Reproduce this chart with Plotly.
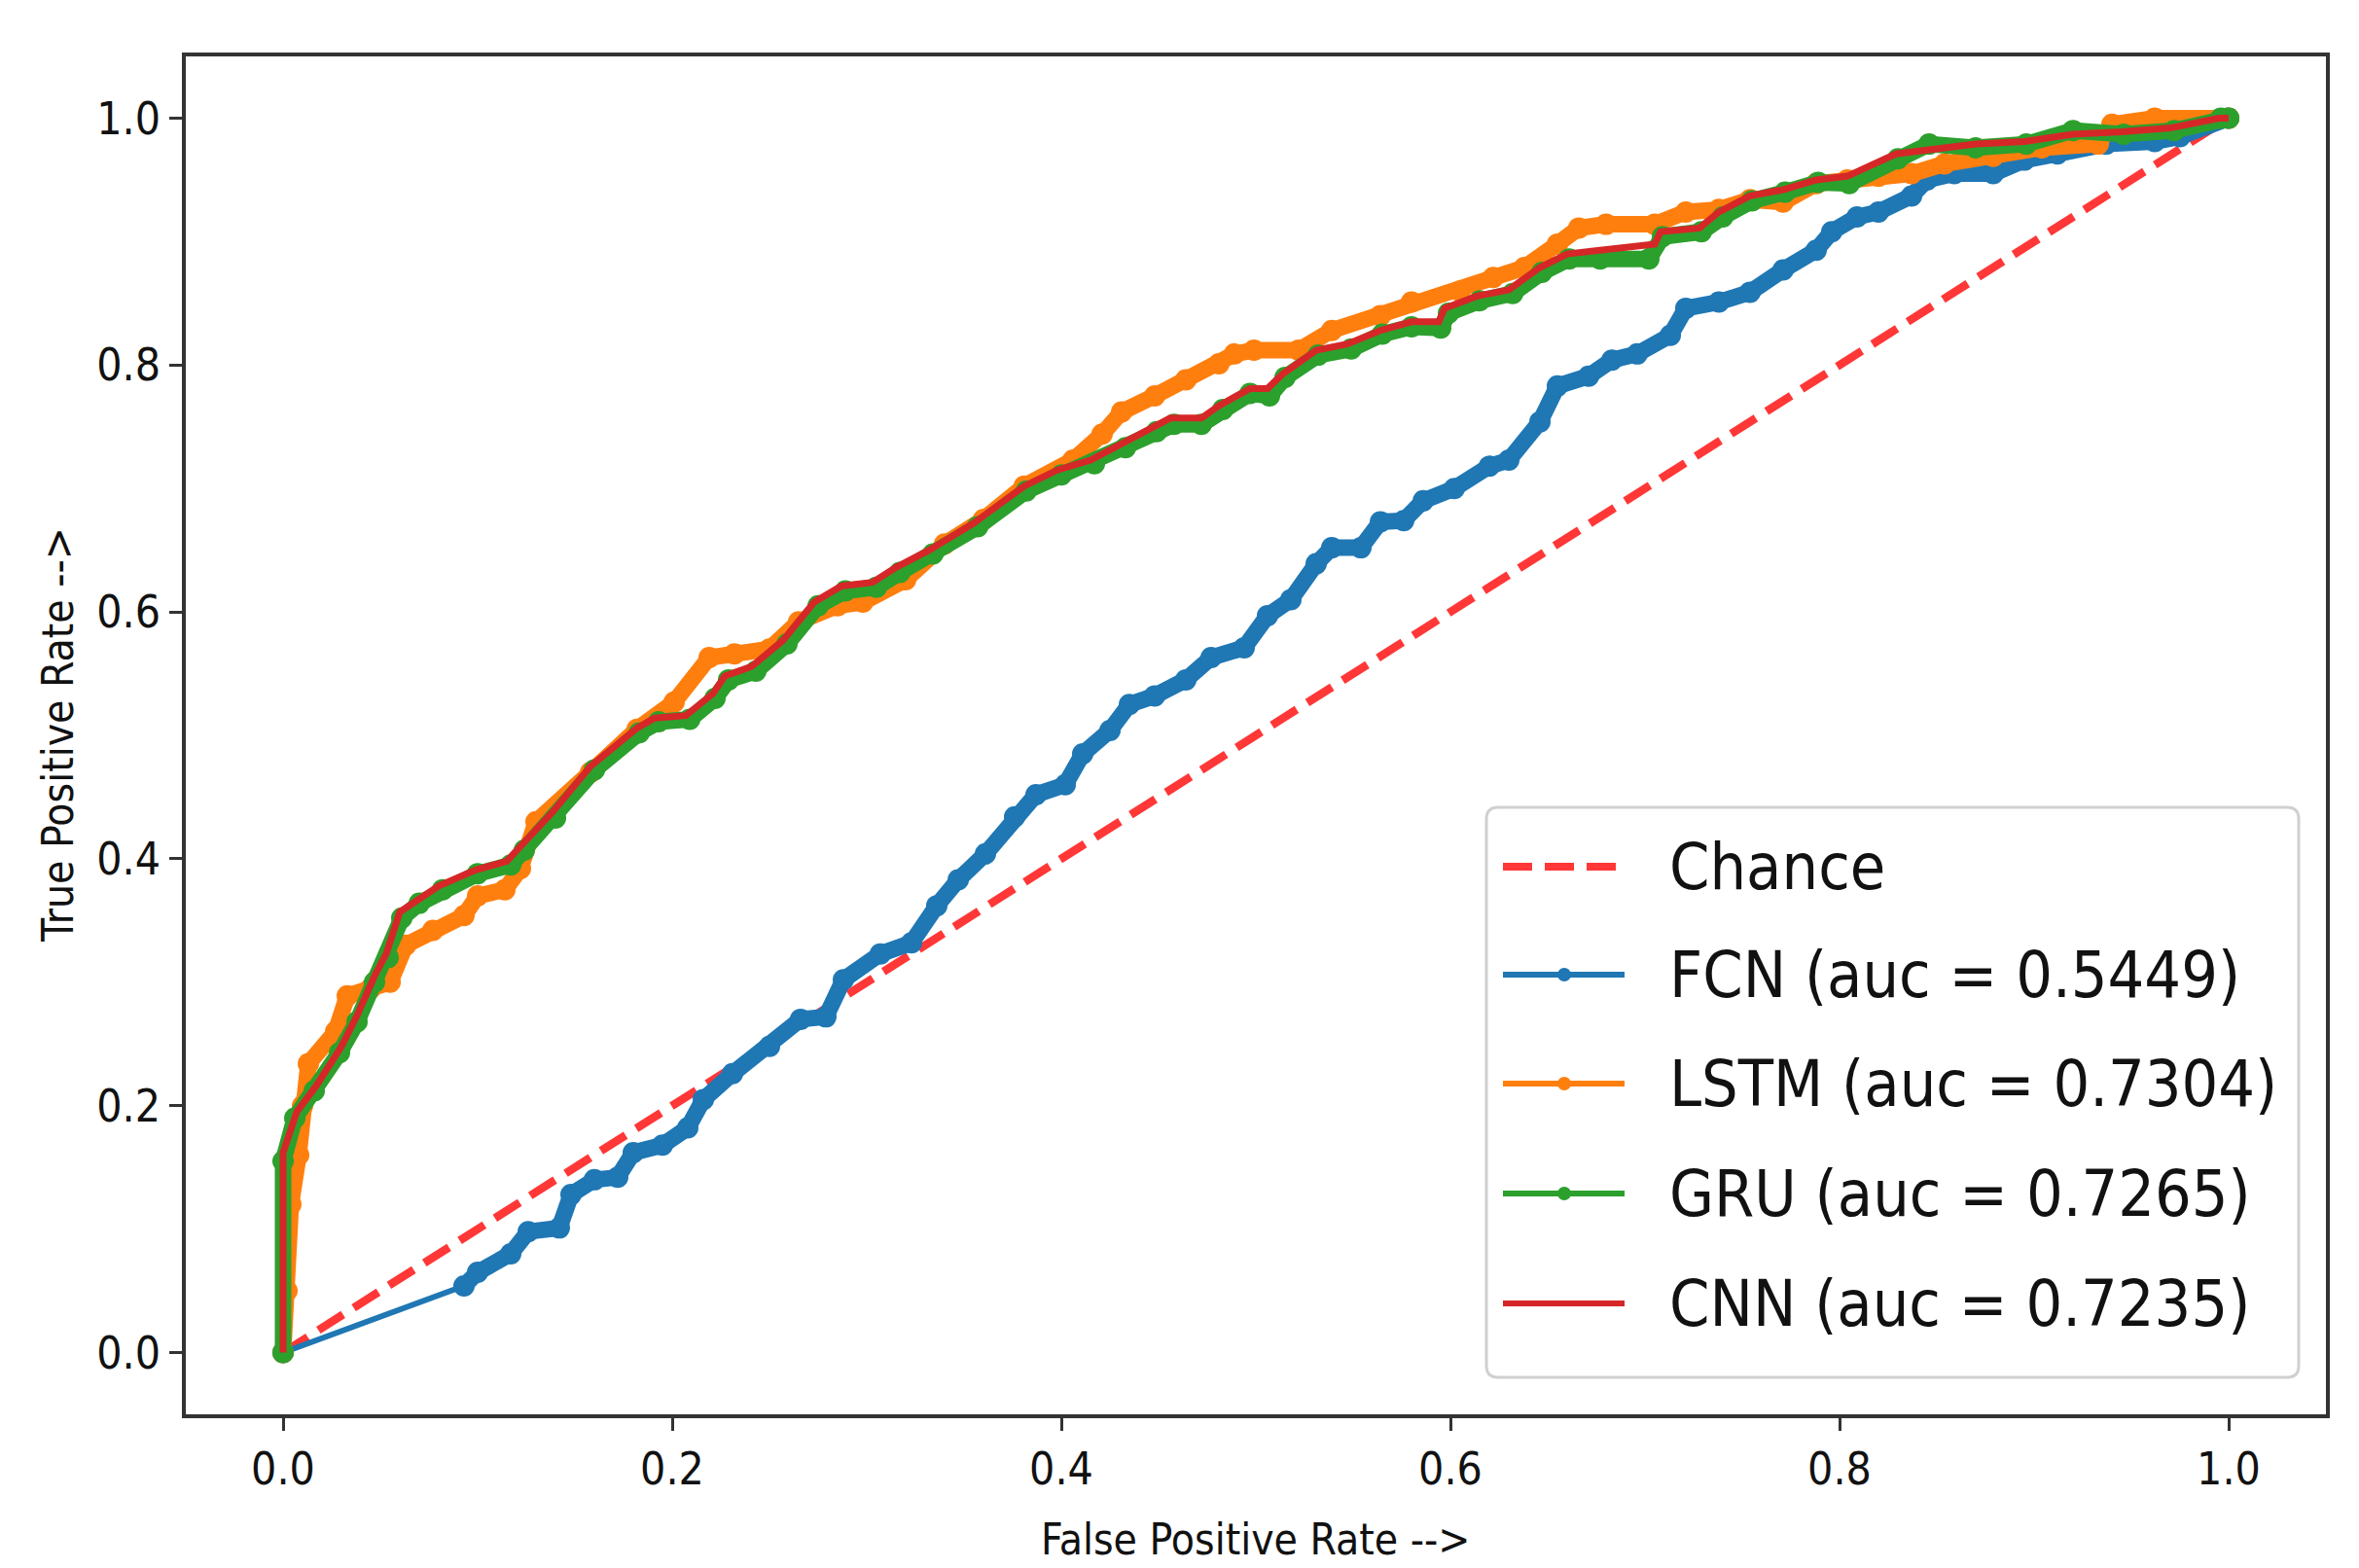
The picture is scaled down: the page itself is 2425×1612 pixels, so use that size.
import plotly.graph_objects as go

# ---------------- data ----------------
chance_x = [0.0, 1.0]
chance_y = [0.0, 1.0]

fpr_fcn = [0.0, 0.093, 0.100, 0.117, 0.126, 0.142, 0.148, 0.160, 0.172, 0.180, 0.195, 0.208,
           0.216, 0.231, 0.250, 0.266, 0.279, 0.288, 0.307, 0.323, 0.336, 0.347, 0.361, 0.376,
           0.387, 0.402, 0.411, 0.425, 0.435, 0.448, 0.464, 0.477, 0.494, 0.506, 0.518, 0.531,
           0.539, 0.554, 0.564, 0.576, 0.586, 0.602, 0.620, 0.630, 0.646, 0.655, 0.671, 0.683,
           0.696, 0.713, 0.721, 0.738, 0.754, 0.771, 0.788, 0.796, 0.809, 0.820, 0.837, 0.845,
           0.859, 0.879, 0.895, 0.912, 0.937, 0.962, 0.975, 1.0]
tpr_fcn = [0.0, 0.054, 0.065, 0.080, 0.098, 0.101, 0.128, 0.140, 0.142, 0.162, 0.168, 0.182,
           0.205, 0.226, 0.248, 0.270, 0.272, 0.302, 0.323, 0.332, 0.362, 0.383, 0.404, 0.434,
           0.452, 0.460, 0.485, 0.504, 0.525, 0.532, 0.545, 0.563, 0.571, 0.597, 0.610, 0.639,
           0.652, 0.652, 0.673, 0.674, 0.690, 0.700, 0.718, 0.723, 0.754, 0.783, 0.791, 0.804,
           0.809, 0.824, 0.846, 0.851, 0.859, 0.877, 0.893, 0.908, 0.920, 0.924, 0.937, 0.950,
           0.955, 0.955, 0.966, 0.971, 0.979, 0.981, 0.985, 1.0]

fpr_lstm = [0.0, 0.002, 0.004, 0.008, 0.010, 0.013, 0.027, 0.033, 0.045, 0.055, 0.063, 0.077,
            0.093, 0.100, 0.114, 0.122, 0.130, 0.158, 0.182, 0.201, 0.219, 0.232, 0.250, 0.265,
            0.285, 0.298, 0.320, 0.340, 0.360, 0.381, 0.406, 0.421, 0.431, 0.448, 0.464, 0.481,
            0.489, 0.499, 0.522, 0.539, 0.564, 0.580, 0.605, 0.622, 0.638, 0.655, 0.666, 0.680,
            0.705, 0.721, 0.738, 0.754, 0.771, 0.788, 0.804, 0.820, 0.837, 0.854, 0.879, 0.904,
            0.933, 0.940, 0.962, 1.0]
tpr_lstm = [0.0, 0.050, 0.120, 0.160, 0.200, 0.234, 0.260, 0.289, 0.295, 0.300, 0.330, 0.342,
            0.354, 0.370, 0.375, 0.392, 0.430, 0.470, 0.505, 0.527, 0.563, 0.566, 0.570, 0.592,
            0.605, 0.608, 0.626, 0.655, 0.675, 0.702, 0.723, 0.744, 0.762, 0.775, 0.788, 0.801,
            0.809, 0.812, 0.812, 0.828, 0.840, 0.851, 0.860, 0.871, 0.879, 0.898, 0.911, 0.914,
            0.914, 0.924, 0.926, 0.934, 0.932, 0.947, 0.950, 0.953, 0.955, 0.963, 0.969, 0.976,
            0.979, 0.995, 1.0, 1.0]

fpr_gru = [0.0, 0.0, 0.006, 0.016, 0.029, 0.038, 0.047, 0.054, 0.061, 0.070, 0.082, 0.100,
           0.117, 0.124, 0.140, 0.160, 0.183, 0.193, 0.209, 0.222, 0.229, 0.243, 0.259, 0.275,
           0.289, 0.305, 0.317, 0.334, 0.357, 0.382, 0.400, 0.417, 0.433, 0.449, 0.458, 0.472,
           0.483, 0.497, 0.507, 0.515, 0.532, 0.549, 0.565, 0.580, 0.595, 0.599, 0.615, 0.632,
           0.647, 0.661, 0.677, 0.702, 0.709, 0.729, 0.740, 0.755, 0.772, 0.789, 0.805, 0.830,
           0.846, 0.870, 0.896, 0.920, 0.946, 0.972, 0.996, 1.0]
tpr_gru = [0.0, 0.155, 0.190, 0.212, 0.243, 0.268, 0.300, 0.320, 0.352, 0.364, 0.375, 0.388,
           0.395, 0.407, 0.433, 0.472, 0.502, 0.511, 0.513, 0.530, 0.545, 0.552, 0.574, 0.605,
           0.617, 0.620, 0.632, 0.647, 0.669, 0.698, 0.711, 0.720, 0.733, 0.746, 0.752, 0.752,
           0.764, 0.777, 0.775, 0.790, 0.808, 0.813, 0.825, 0.831, 0.830, 0.842, 0.852, 0.858,
           0.875, 0.886, 0.886, 0.886, 0.904, 0.908, 0.920, 0.933, 0.940, 0.948, 0.947, 0.967,
           0.979, 0.976, 0.979, 0.990, 0.987, 0.990, 1.0, 1.0]

fpr_cnn = [0.0, 0.0, 0.007, 0.017, 0.030, 0.038, 0.047, 0.053, 0.060, 0.070, 0.080, 0.099,
           0.115, 0.122, 0.138, 0.158, 0.182, 0.191, 0.207, 0.221, 0.227, 0.241, 0.257, 0.273,
           0.287, 0.303, 0.315, 0.332, 0.355, 0.381, 0.398, 0.415, 0.431, 0.448, 0.456, 0.472,
           0.481, 0.497, 0.506, 0.514, 0.531, 0.547, 0.564, 0.580, 0.594, 0.597, 0.614, 0.630,
           0.646, 0.660, 0.675, 0.705, 0.708, 0.728, 0.738, 0.754, 0.771, 0.788, 0.804, 0.829,
           0.854, 0.870, 0.895, 0.920, 0.945, 0.970, 0.995, 1.0]
tpr_cnn = [0.0, 0.162, 0.195, 0.216, 0.248, 0.273, 0.305, 0.323, 0.357, 0.368, 0.378, 0.391,
           0.398, 0.410, 0.437, 0.475, 0.506, 0.514, 0.516, 0.534, 0.548, 0.556, 0.577, 0.608,
           0.621, 0.624, 0.636, 0.650, 0.672, 0.702, 0.715, 0.723, 0.736, 0.749, 0.757, 0.757,
           0.767, 0.781, 0.781, 0.793, 0.812, 0.817, 0.828, 0.835, 0.835, 0.846, 0.856, 0.861,
           0.879, 0.890, 0.893, 0.898, 0.908, 0.911, 0.924, 0.937, 0.942, 0.950, 0.953, 0.971,
           0.976, 0.979, 0.981, 0.987, 0.989, 0.992, 1.0, 1.0]

model_names = ["FCN", "LSTM", "GRU", "CNN"]
auc_values = [0.5449, 0.7304, 0.7265, 0.7235]
chance_label = "Chance"

x_tick_vals = [0.0, 0.2, 0.4, 0.6, 0.8, 1.0]
x_tick_text = ["0.0", "0.2", "0.4", "0.6", "0.8", "1.0"]
y_tick_vals = [0.0, 0.2, 0.4, 0.6, 0.8, 1.0]
y_tick_text = ["0.0", "0.2", "0.4", "0.6", "0.8", "1.0"]
x_title = "False Positive Rate -->"
y_title = "True Positive Rate -->"

# ---------------- style ----------------
FONT = "DejaVu Sans Condensed, DejaVu Sans, sans-serif"
C_BLUE, C_ORANGE, C_GREEN, C_RED = "#1f77b4", "#ff7f0e", "#2ca02c", "#d62728"
C_CHANCE = "rgba(255,20,20,0.85)"
DASH = "30px,13px"

W, H = 2425, 1612
ML, MR, MT, MB = 183, 42, 50, 166
PW, PH = W - ML - MR, H - MT - MB

series = [
    (fpr_fcn, tpr_fcn, C_BLUE, True),
    (fpr_lstm, tpr_lstm, C_ORANGE, True),
    (fpr_gru, tpr_gru, C_GREEN, True),
    (fpr_cnn, tpr_cnn, C_RED, False),
]


def band(xs, ys, max_dx=0.05):
    """Break the thick marker band where consecutive points are far apart in x."""
    bx, by = [xs[0]], [ys[0]]
    for i in range(1, len(xs)):
        if xs[i] - xs[i - 1] > max_dx:
            bx.append(None)
            by.append(None)
        bx.append(xs[i])
        by.append(ys[i])
    return bx, by


fig = go.Figure()
fig.add_trace(go.Scatter(x=chance_x, y=chance_y, mode="lines", name=chance_label,
                         line=dict(color=C_CHANCE, width=8.5, dash=DASH), showlegend=False))
for (fx, ty, col, has_marker), name, auc in zip(series, model_names, auc_values):
    label = f"{name} (auc = {auc:.4f})"
    if has_marker:
        fig.add_trace(go.Scatter(x=fx, y=ty, mode="lines", name=label,
                                 line=dict(color=col, width=6), showlegend=False))
        bx, by = band(fx, ty)
        fig.add_trace(go.Scatter(x=bx, y=by, mode="lines+markers", name=label,
                                 line=dict(color=col, width=17),
                                 marker=dict(color=col, size=22, line=dict(width=0)),
                                 connectgaps=False, showlegend=False))
    else:
        fig.add_trace(go.Scatter(x=fx, y=ty, mode="lines", name=label,
                                 line=dict(color=col, width=7), showlegend=False))

# ---------------- custom legend (matplotlib-like) ----------------
def px2paper_x(px):
    return (px - ML) / PW


def px2paper_y(py):
    return (H - MB - py) / PH


bx0, bx1 = px2paper_x(1520), px2paper_x(2355)
by1, by0 = px2paper_y(822), px2paper_y(1408)
rx, ry = 12 / PW, 12 / PH
box_path = (f"M{bx0+rx},{by0} L{bx1-rx},{by0} Q{bx1},{by0} {bx1},{by0+ry} "
            f"L{bx1},{by1-ry} Q{bx1},{by1} {bx1-rx},{by1} L{bx0+rx},{by1} "
            f"Q{bx0},{by1} {bx0},{by1-ry} L{bx0},{by0+ry} Q{bx0},{by0} {bx0+rx},{by0} Z")
shapes = [dict(type="path", xref="paper", yref="paper", path=box_path,
               fillcolor="rgba(255,255,255,0.85)", line=dict(color="#d0d0d0", width=3))]
annotations = []

row_px = [883, 994, 1106, 1219, 1332]
lx0, lx1, lmx, tx = px2paper_x(1537), px2paper_x(1662), px2paper_x(1600), px2paper_x(1706)
legend_items = [(chance_label, C_CHANCE, DASH, False)] + [
    (f"{n} (auc = {a:.4f})", s[2], "solid", s[3]) for n, a, s in zip(model_names, auc_values, series)]
for (label, col, dash, has_marker), rp in zip(legend_items, row_px):
    yy = px2paper_y(rp)
    shapes.append(dict(type="line", xref="paper", yref="paper", x0=lx0, x1=lx1, y0=yy, y1=yy,
                       line=dict(color=col, width=8 if dash != "solid" else 6, dash=dash)))
    if has_marker:
        shapes.append(dict(type="circle", xref="paper", yref="paper", xsizemode="pixel",
                           ysizemode="pixel", xanchor=lmx, yanchor=yy, x0=-7, x1=7, y0=-7, y1=7,
                           fillcolor=col, line=dict(width=0)))
    annotations.append(dict(text=label, xref="paper", yref="paper", x=tx, y=yy,
                            xanchor="left", yanchor="middle", showarrow=False,
                            font=dict(family=FONT, size=66, color="#111111")))

# axis titles
annotations.append(dict(text=x_title, xref="paper", yref="paper", x=0.5, y=0, yshift=-128,
                        xanchor="center", yanchor="middle", showarrow=False,
                        font=dict(family=FONT, size=44, color="#111111")))
annotations.append(dict(text=y_title, xref="paper", yref="paper", x=0, xshift=-132, y=0.5,
                        xanchor="center", yanchor="middle", textangle=-90, showarrow=False,
                        font=dict(family=FONT, size=44, color="#111111")))

axis_common = dict(showgrid=False, zeroline=False, showline=True, mirror=True,
                   linecolor="#333333", linewidth=3.5, ticks="outside", ticklen=13,
                   tickwidth=3, tickcolor="#333333",
                   tickfont=dict(family=FONT, size=46, color="#111111"))

fig.update_layout(
    width=W, height=H,
    margin=dict(l=ML, r=MR, t=MT, b=MB),
    paper_bgcolor="white", plot_bgcolor="white",
    xaxis=dict(range=[-0.05, 1.05], tickvals=x_tick_vals, ticktext=x_tick_text, **axis_common),
    yaxis=dict(range=[-0.05, 1.05], tickvals=y_tick_vals, ticktext=y_tick_text, **axis_common),
    shapes=shapes, annotations=annotations, showlegend=False,
)

fig.write_html("out.html")
